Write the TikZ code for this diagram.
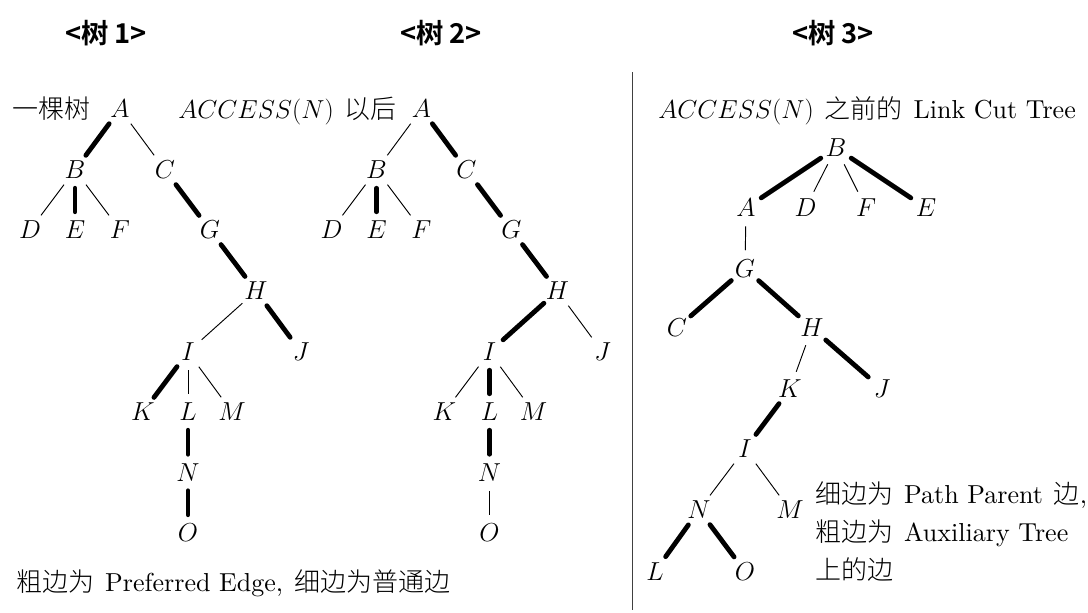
\RequirePackage{fix-cm}
\documentclass[tikz,border=0pt]{standalone}
\usepackage{fontspec}
\setmainfont{lmroman10-regular.otf}
\newfontfamily\cjk{Noto Sans CJK SC}[UprightFont=* Light, BoldFont=* Bold]
\newcommand\cjgap{\hspace{0.42em}}
\tikzset{
  v/.style={circle, inner sep=0pt, minimum size=27pt, font=\fontsize{19.5}{23}\selectfont},
  thk/.style={line width=3.6pt, line cap=round},
  thn/.style={line width=0.7pt},
  lbl/.style={anchor=base west, inner sep=0pt, font=\fontsize{19.5}{23}\selectfont},
  hdr/.style={anchor=base, inner sep=0pt, font=\cjk\bfseries\fontsize{20.5}{24}\selectfont},
}
\begin{document}
\begin{tikzpicture}[x=0.75pt, y=-0.75pt]
\useasboundingbox (0,0) rectangle (1088,612);
% headers
\node[hdr] (h1) at (106,43.5) {<树 1>};
\node[hdr] (h2) at (441,43.5) {<树 2>};
\node[hdr] (h3) at (833,43.5) {<树 3>};
% separator
\coordinate (s1) at (632.7,72);
\coordinate (s2) at (632.7,610);
\draw[line width=0.9pt, black!75] (s1) -- (s2);

% ---------- tree 1 ----------
\node[lbl] (l1) at (12,118) {\cjk 一棵树};
\node[v] (a1) at (120,109) {$A$};
\node[v] (b1) at (75,170) {$B$};
\node[v] (c1) at (165,170) {$C$};
\node[v] (d1) at (30,230) {$D$};
\node[v] (e1) at (75,230) {$E$};
\node[v] (f1) at (120,230) {$F$};
\node[v] (g1) at (210,230) {$G$};
\node[v] (hh1) at (256,291) {$H$};
\node[v] (i1) at (188,352) {$I$};
\node[v] (j1) at (301,352) {$J$};
\node[v] (k1) at (143,412) {$K$};
\node[v] (ll1) at (188,412) {$L$};
\node[v] (m1) at (232,412) {$M$};
\node[v] (n1) at (188,472.5) {$N$};
\node[v] (o1) at (188,533) {$O$};
\draw[thk] (a1) -- (b1);
\draw[thn] (a1) -- (c1);
\draw[thn] (b1) -- (d1);
\draw[thk] (b1) -- (e1);
\draw[thn] (b1) -- (f1);
\draw[thk] (c1) -- (g1);
\draw[thk] (g1) -- (hh1);
\draw[thn] (hh1) -- (i1);
\draw[thk] (hh1) -- (j1);
\draw[thk] (i1) -- (k1);
\draw[thn] (i1) -- (ll1);
\draw[thn] (i1) -- (m1);
\draw[thk] (ll1) -- (n1);
\draw[thk] (n1) -- (o1);
\node[lbl] (cap1) at (16,591) {{\cjk 粗边为}\cjgap Preferred Edge,\cjgap{\cjk 细边为普通边}};

% ---------- tree 2 ----------
\node[lbl] (l2) at (178,118) {$ACCESS(N)$\cjgap{\cjk 以后}};
\node[v] (a2) at (421.5,109) {$A$};
\node[v] (b2) at (376.5,170) {$B$};
\node[v] (c2) at (466.5,170) {$C$};
\node[v] (d2) at (331.5,230) {$D$};
\node[v] (e2) at (376.5,230) {$E$};
\node[v] (f2) at (421.5,230) {$F$};
\node[v] (g2) at (511.5,230) {$G$};
\node[v] (hh2) at (557.5,291) {$H$};
\node[v] (i2) at (489.5,352) {$I$};
\node[v] (j2) at (602.5,352) {$J$};
\node[v] (k2) at (444.5,412) {$K$};
\node[v] (ll2) at (489.5,412) {$L$};
\node[v] (m2) at (533.5,412) {$M$};
\node[v] (n2) at (489.5,472.5) {$N$};
\node[v] (o2) at (489.5,533) {$O$};
\draw[thn] (a2) -- (b2);
\draw[thk] (a2) -- (c2);
\draw[thn] (b2) -- (d2);
\draw[thk] (b2) -- (e2);
\draw[thn] (b2) -- (f2);
\draw[thk] (c2) -- (g2);
\draw[thk] (g2) -- (hh2);
\draw[thk] (hh2) -- (i2);
\draw[thn] (hh2) -- (j2);
\draw[thn] (i2) -- (k2);
\draw[thk] (i2) -- (ll2);
\draw[thn] (i2) -- (m2);
\draw[thk] (ll2) -- (n2);
\draw[thn] (n2) -- (o2);

% ---------- tree 3 ----------
\node[lbl] (l3) at (658,118) {$ACCESS(N)$\cjgap{\cjk 之前的}\cjgap Link Cut Tree};
\node[v] (b3) at (836,148) {$B$};
\node[v] (a3) at (746,208) {$A$};
\node[v] (d3) at (805.5,208) {$D$};
\node[v] (f3) at (866,208) {$F$};
\node[v] (e3) at (926,208) {$E$};
\node[v] (g3) at (745,268.5) {$G$};
\node[v] (c3) at (677,328) {$C$};
\node[v] (hh3) at (812,328) {$H$};
\node[v] (k3) at (790,389) {$K$};
\node[v] (j3) at (882,389) {$J$};
\node[v] (i3) at (745,449) {$I$};
\node[v] (n3) at (699,510) {$N$};
\node[v] (m3) at (790,510) {$M$};
\node[v] (ll3) at (655,571.5) {$L$};
\node[v] (o3) at (745,571.5) {$O$};
\draw[thk] (b3) -- (a3);
\draw[thn] (b3) -- (d3);
\draw[thn] (b3) -- (f3);
\draw[thk] (b3) -- (e3);
\draw[thn] (a3) -- (g3);
\draw[thk] (g3) -- (c3);
\draw[thk] (g3) -- (hh3);
\draw[thn] (hh3) -- (k3);
\draw[thk] (hh3) -- (j3);
\draw[thk] (k3) -- (i3);
\draw[thn] (i3) -- (n3);
\draw[thn] (i3) -- (m3);
\draw[thk] (n3) -- (ll3);
\draw[thk] (n3) -- (o3);
\node[lbl] (r1) at (815,503) {{\cjk 细边为}\cjgap Path Parent\cjgap{\cjk 边},};
\node[lbl] (r2) at (815,541) {{\cjk 粗边为}\cjgap Auxiliary Tree};
\node[lbl] (r3) at (815,579) {\cjk 上的边};
\end{tikzpicture}
\end{document}
